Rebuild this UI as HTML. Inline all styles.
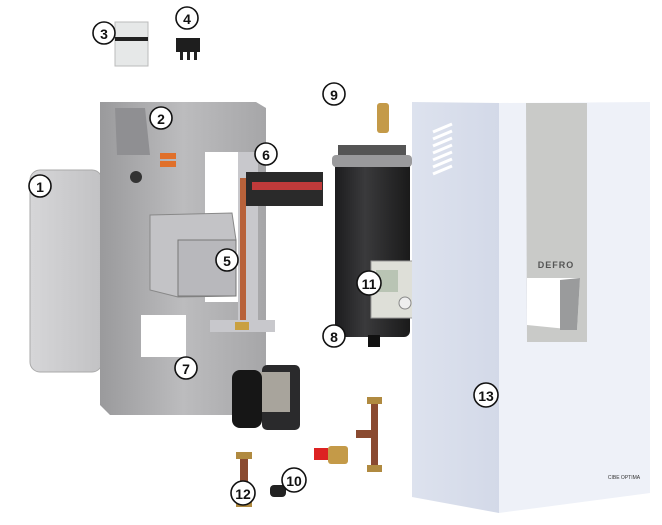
<!DOCTYPE html>
<html><head><meta charset="utf-8"><style>
html,body{margin:0;padding:0;background:#fff;}
svg{display:block;}
.lb circle{fill:#fff;stroke:#111;stroke-width:1.6;}
.lb text{font-family:"Liberation Sans",sans-serif;font-weight:bold;font-size:14px;fill:#111;text-anchor:middle;dominant-baseline:central;}
</style></head><body>
<svg width="662" height="525" viewBox="0 0 662 525" xmlns="http://www.w3.org/2000/svg">
<defs>
<linearGradient id="frame" x1="0" x2="1"><stop offset="0" stop-color="#9a9a9c"/><stop offset="0.5" stop-color="#bcbcbe"/><stop offset="1" stop-color="#a6a6a8"/></linearGradient>
<linearGradient id="tank" x1="0" x2="1"><stop offset="0" stop-color="#d6d6d8"/><stop offset="1" stop-color="#c2c2c4"/></linearGradient>
<linearGradient id="cyl" x1="0" x2="1"><stop offset="0" stop-color="#1c1c1e"/><stop offset="0.4" stop-color="#3a3a3c"/><stop offset="1" stop-color="#1a1a1a"/></linearGradient>
<linearGradient id="side" x1="0" x2="1"><stop offset="0" stop-color="#dde2ee"/><stop offset="1" stop-color="#d3d9e8"/></linearGradient>
</defs>
<!-- tank 1 -->
<rect x="30" y="170" width="72" height="202" rx="10" fill="url(#tank)" stroke="#aaa"/>
<!-- frame -->
<polygon points="100,102 256,102 266,108 266,410 245,415 110,415 100,405" fill="url(#frame)"/>
<polygon points="115,108 145,108 150,155 117,155" fill="#8f8f92"/>
<rect x="205" y="152" width="36" height="150" fill="#fff"/>
<rect x="141" y="315" width="45" height="42" fill="#fff"/>
<rect x="238" y="152" width="20" height="170" fill="#c8c8cc"/>
<rect x="160" y="153" width="16" height="6" fill="#e0702a"/>
<rect x="160" y="161" width="16" height="6" fill="#e0702a"/>
<circle cx="136" cy="177" r="6" fill="#333"/>
<!-- box 5 -->
<polygon points="150,215 232,213 236,240 236,296 178,297 150,290" fill="#c3c3c6" stroke="#888"/>
<rect x="178" y="240" width="58" height="56" fill="#b8b8bc" stroke="#777"/>
<!-- pipe -->
<rect x="240" y="178" width="6" height="150" fill="#b8623a"/>
<rect x="246" y="172" width="77" height="34" fill="#2a2a2a"/>
<rect x="252" y="182" width="70" height="8" fill="#c03a3a"/>
<rect x="210" y="320" width="65" height="12" fill="#c8c8cc"/>
<rect x="235" y="322" width="14" height="8" fill="#c9a040"/>
<!-- pump -->
<rect x="262" y="365" width="38" height="65" rx="5" fill="#2a2a2c"/>
<rect x="258" y="372" width="32" height="40" fill="#a8a49c"/>
<rect x="232" y="370" width="30" height="58" rx="8" fill="#161616"/>
<!-- breaker 3 & 4 -->
<rect x="115" y="22" width="33" height="44" fill="#e6e8e8" stroke="#bbb"/>
<rect x="115" y="37" width="33" height="4" fill="#222"/>
<rect x="176" y="38" width="24" height="14" fill="#1e1e1e"/>
<rect x="180" y="52" width="3" height="8" fill="#222"/><rect x="187" y="52" width="3" height="8" fill="#222"/><rect x="194" y="52" width="3" height="8" fill="#222"/>
<!-- air valve 9 -->
<rect x="377" y="103" width="12" height="30" rx="3" fill="#c49a48"/>
<!-- heater -->
<rect x="335" y="162" width="75" height="175" rx="6" fill="url(#cyl)"/>
<rect x="332" y="155" width="80" height="12" rx="4" fill="#9a9a9c"/>
<rect x="338" y="145" width="68" height="10" fill="#555"/>
<rect x="368" y="335" width="12" height="12" fill="#111"/>
<rect x="371" y="261" width="42" height="57" fill="#dedfd8" stroke="#999"/>
<rect x="376" y="270" width="22" height="22" fill="#b9c4b4"/>
<circle cx="405" cy="303" r="6" fill="#eee" stroke="#888"/>
<!-- cover -->
<polygon points="412,102 499,103 499,513 412,497" fill="url(#side)"/>
<polygon points="499,103 650,102 650,493 499,513" fill="#eef1f8"/>
<polygon points="526,103 587,103 587,342 527,342" fill="#c9cac8"/>
<polygon points="527,278 580,278 577,330 527,325" fill="#fff"/>
<polygon points="560,280 580,278 577,330 560,330" fill="#9a9b9c"/>
<text x="556" y="268" font-family="Liberation Sans,sans-serif" font-weight="bold" font-size="9" fill="#555" text-anchor="middle" letter-spacing="1">DEFRO</text>
<text x="624" y="479" font-family="Liberation Sans,sans-serif" font-size="5" fill="#333" text-anchor="middle">CIBE OPTIMA</text>
<g stroke="#fff" stroke-width="3">
<line x1="433" y1="132" x2="452" y2="124"/><line x1="433" y1="139" x2="452" y2="131"/><line x1="433" y1="146" x2="452" y2="138"/><line x1="433" y1="153" x2="452" y2="145"/><line x1="433" y1="160" x2="452" y2="152"/><line x1="433" y1="167" x2="452" y2="159"/><line x1="433" y1="174" x2="452" y2="166"/>
</g>
<!-- fittings -->
<rect x="371" y="400" width="7" height="70" fill="#8a4a30"/>
<rect x="367" y="397" width="15" height="7" fill="#b08a40"/><rect x="367" y="465" width="15" height="7" fill="#b08a40"/>
<rect x="356" y="430" width="16" height="8" fill="#8a4a30"/>
<rect x="314" y="448" width="14" height="12" fill="#d22"/>
<rect x="328" y="446" width="20" height="18" rx="3" fill="#c49a48"/>
<rect x="240" y="455" width="8" height="50" fill="#8a4a30"/>
<rect x="236" y="452" width="16" height="7" fill="#b08a40"/><rect x="236" y="500" width="16" height="7" fill="#b08a40"/>
<rect x="270" y="485" width="16" height="12" rx="4" fill="#222"/>
<!-- labels -->
<g class="lb">
<circle cx="40" cy="186" r="11"/><text x="40" y="187">1</text>
<circle cx="161" cy="118" r="11"/><text x="161" y="119">2</text>
<circle cx="104" cy="33" r="11"/><text x="104" y="34">3</text>
<circle cx="187" cy="18" r="11"/><text x="187" y="19">4</text>
<circle cx="227" cy="260" r="11"/><text x="227" y="261">5</text>
<circle cx="266" cy="154" r="11"/><text x="266" y="155">6</text>
<circle cx="186" cy="368" r="11"/><text x="186" y="369">7</text>
<circle cx="334" cy="336" r="11"/><text x="334" y="337">8</text>
<circle cx="334" cy="94" r="11"/><text x="334" y="95">9</text>
<circle cx="294" cy="480" r="12"/><text x="294" y="481">10</text>
<circle cx="369" cy="283" r="12"/><text x="369" y="284">11</text>
<circle cx="243" cy="493" r="12"/><text x="243" y="494">12</text>
<circle cx="486" cy="395" r="12"/><text x="486" y="396">13</text>
</g>
</svg>
</body></html>
